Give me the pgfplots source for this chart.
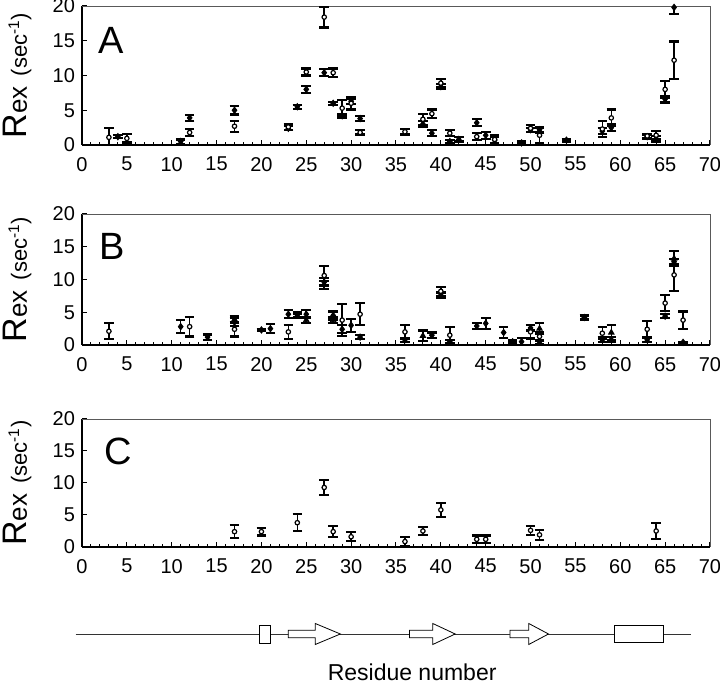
\documentclass[border=0pt]{standalone}
\usepackage{pgfplots}
\usepackage{pgfplotstable}
\pgfplotsset{compat=1.18}
\usepackage{fontspec}
\setmainfont{Liberation Sans}

\pgfplotstableread{
x y e
3 1.1 1.3
5 0.95 0.6
12 1.8 0.5
17 2.7 0.8
23 2.6 0.4
25 10.5 0.5
27 18.4 1.5
28 10.4 0.6
29 5.3 1.2
30 6.0 0.9
31 1.8 0.3
36 1.9 0.4
38 3.7 0.8
39 4.5 0.6
40 8.9 0.6
41 1.7 0.4
44 1.2 0.5
46 0.8 0.6
50 2.4 0.5
51 1.4 1.1
58 2.3 1.1
59 3.9 1.2
63 1.3 0.3
64 1.4 0.6
65 8.0 1.2
66 12.2 2.7
}\Aopen

\pgfplotstableread{
x y e
4 1.2 0.2
11 0.5 0.3
12 3.9 0.4
17 5.0 0.6
23 2.4 0.3
24 5.5 0.3
25 8.0 0.5
27 10.4 0.5
28 6.0 0.2
29 4.2 0.3
30 6.3 0.4
31 3.8 0.4
38 3.0 0.4
39 1.7 0.4
40 8.4 0.4
41 0.5 0.2
42 0.8 0.3
44 3.2 0.5
45 1.4 0.5
46 0.7 0.4
49 0.3 0.2
50 2.2 0.3
51 2.2 0.4
54 0.7 0.2
58 2.0 0.4
59 2.5 0.5
63 1.2 0.3
64 0.9 0.4
65 6.6 0.5
66 19.8 1.0
}\Afill

\pgfplotstableread{
x y e
3 2.1 1.2
12 2.8 1.5
17 2.4 1.1
23 2.0 1.1
27 10.6 1.4
29 3.8 2.4
31 4.7 1.7
36 2.0 1.1
40 8.2 0.7
41 1.5 1.2
50 2.0 1.0
51 1.3 0.6
58 1.8 0.9
63 2.4 1.3
65 6.4 1.2
66 10.7 2.4
67 3.8 1.3
}\Bopen

\pgfplotstableread{
x y e
11 2.8 1.0
14 1.2 0.4
17 3.5 0.6
20 2.3 0.2
21 2.5 0.7
23 4.7 0.6
24 4.6 0.4
25 4.7 0.6
27 9.6 0.6
28 4.5 0.6
29 2.4 0.6
30 3.0 1.0
31 1.2 0.3
36 0.8 0.3
39 1.5 0.4
40 7.6 0.4
41 0.5 0.3
44 2.9 0.5
45 3.3 0.8
47 1.9 0.8
48 0.5 0.2
49 0.5 0.6
50 2.6 0.4
51 0.5 0.3
56 4.2 0.3
58 0.8 0.4
59 0.8 0.4
63 0.8 0.4
65 4.4 0.3
66 12.7 0.4
67 0.4 0.1
}\Bfill

\pgfplotstableread{
x y e
17 3.9 0.5
24 4.4 0.3
25 3.8 0.5
27 9.2 0.6
28 3.8 0.4
38 1.4 0.8
51 2.5 0.8
59 1.9 1.1
66 13.2 1.1
}\Btri

\pgfplotstableread{
x y e
17 2.4 1.0
20 2.4 0.6
24 3.8 1.3
27 9.3 1.2
28 2.4 0.9
30 1.6 0.7
36 0.85 0.7
38 2.5 0.6
40 5.8 1.1
44 1.2 0.6
45 1.2 0.6
50 2.6 0.7
51 1.9 0.8
64 2.5 1.2
}\Copen

\pgfplotsset{
  rex/.style={
    scale only axis, width=314pt,
    xmin=0, xmax=70, ymin=0, ymax=20,
    axis lines=left, axis line style={-, line width=0.8pt},
    xtick={0,5,...,70}, ytick={0,5,...,20},
    minor x tick num=4,
    tick align=inside,
    major tick length=2.5pt, minor tick length=1.5pt,
    tick style={black, line width=0.5pt},
    /pgf/number format/assume math mode=true,
    ticklabel style={font=\fontsize{10}{11}\selectfont},
    xticklabel style={yshift=-2.5pt},
    clip mode=individual,
  },
  ebar/.style={only marks,
    /pgfplots/error bars/y dir=both,
    /pgfplots/error bars/y explicit,
    /pgfplots/error bars/error bar style={line width=0.8pt, black},
    /pgfplots/error bars/error mark options={rotate=90, mark size=2.4pt, line width=1.1pt, black}},
  openc/.style={ebar, mark=*, mark size=1.1pt, mark options={draw=black, fill=white, line width=0.6pt}},
  fdiam/.style={ebar, mark=diamond*, mark size=1.6pt, mark options={draw=black, fill=black}},
  ftri/.style={ebar, mark=triangle*, mark size=1.6pt, mark options={draw=black, fill=black}},
}

\newcommand{\rexlabel}{\node[rotate=90, anchor=base, inner sep=0pt] at ([xshift=-27.5pt]rel axis cs:0,0.5)
  {\fontsize{17}{18}\selectfont R\fontsize{13}{14}\selectfont ex\hspace{5pt}\fontsize{11}{12}\selectfont (sec\textsuperscript{-1})};}
\newcommand{\frameTR}{\draw[line width=0.4pt, black!65] (rel axis cs:0,1) -- (rel axis cs:1,1) -- (rel axis cs:1,0);}

\begin{document}
\begin{tikzpicture}[x=1pt,y=1pt]
\path[use as bounding box] (0,0) rectangle (360,343);

% Panel A
\begin{axis}[rex, at={(41pt,270.5pt)}, anchor=south west, height=69.5pt]
\frameTR
\addplot[fdiam] table[x=x,y=y,y error=e] {\Afill};
\addplot[openc] table[x=x,y=y,y error=e] {\Aopen};
\node[font=\fontsize{19}{20}\selectfont] at (axis cs:3.2,15) {A};
\rexlabel
\end{axis}

% Panel B
\begin{axis}[rex, at={(41pt,170.5pt)}, anchor=south west, height=65.5pt]
\frameTR
\addplot[fdiam] table[x=x,y=y,y error=e] {\Bfill};
\addplot[ftri] table[x=x,y=y,y error=e] {\Btri};
\addplot[openc] table[x=x,y=y,y error=e] {\Bopen};
\node[font=\fontsize{19}{20}\selectfont] at (axis cs:3.4,15) {B};
\rexlabel
\end{axis}

% Panel C
\begin{axis}[rex, at={(41pt,69.5pt)}, anchor=south west, height=64pt]
\frameTR
\addplot[openc] table[x=x,y=y,y error=e] {\Copen};
\node[font=\fontsize{19}{20}\selectfont] at (axis cs:4.0,15) {C};
\rexlabel
\end{axis}

% Secondary structure
\begin{axis}[at={(41pt,18.5pt)}, anchor=south west, scale only axis, width=314pt, height=15pt,
  xmin=0, xmax=70, ymin=-15, ymax=15, hide axis, clip=false]
\draw[line width=0.4pt, black!80] (axis cs:-0.7,0) -- (axis cs:67.9,0);
\draw[line width=0.4pt, fill=white] (axis cs:19.8,-9) rectangle (axis cs:21.0,9);
\draw[line width=0.4pt, fill=white] (axis cs:23.0,-3.7) -- (axis cs:26.0,-3.7) -- (axis cs:26.0,-10.5) -- (axis cs:28.8,0) -- (axis cs:26.0,10.5) -- (axis cs:26.0,3.7) -- (axis cs:23.0,3.7) -- cycle;
\draw[line width=0.4pt, fill=white] (axis cs:36.5,-3.7) -- (axis cs:39.1,-3.7) -- (axis cs:39.1,-10.5) -- (axis cs:41.6,0) -- (axis cs:39.1,10.5) -- (axis cs:39.1,3.7) -- (axis cs:36.5,3.7) -- cycle;
\draw[line width=0.4pt, fill=white] (axis cs:47.7,-3.7) -- (axis cs:49.8,-3.7) -- (axis cs:49.8,-10.5) -- (axis cs:52.0,0) -- (axis cs:49.8,10.5) -- (axis cs:49.8,3.7) -- (axis cs:47.7,3.7) -- cycle;
\draw[line width=0.4pt, fill=white] (axis cs:59.4,-8.5) rectangle (axis cs:64.8,8.5);
\node[font=\fontsize{11.5}{12}\selectfont] at (axis cs:36.8,-38) {Residue number};
\end{axis}
\end{tikzpicture}
\end{document}
